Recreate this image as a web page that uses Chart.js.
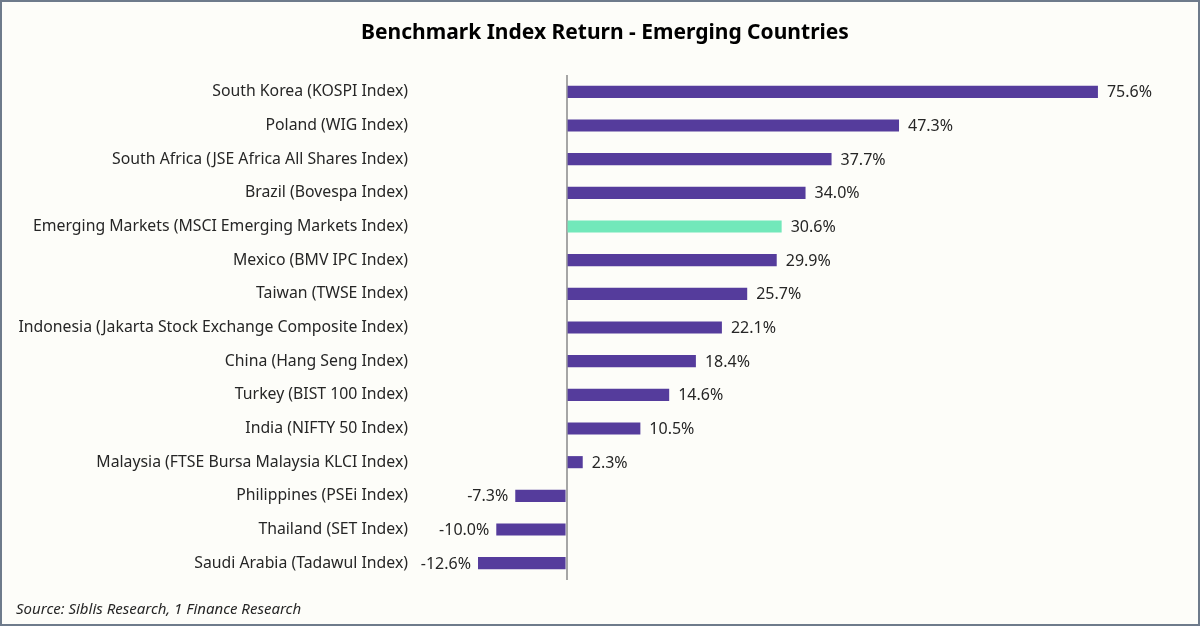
<!DOCTYPE html>
<html>
<head>
<meta charset="utf-8">
<script src="https://cdn.jsdelivr.net/npm/chart.js@4.4.1/dist/chart.umd.min.js"></script>
<style>
    html, body { margin: 0; padding: 0; background: #fdfdf9; }
    #wrap {
        width: 1200px; height: 626px; box-sizing: border-box;
        border: 2px solid #6e7b8b; background: #fdfdf9;
    }
    canvas { display: block; }
</style>
</head>
<body>
<div id="wrap"><canvas id="myChart" width="1196" height="622"></canvas></div>
<script>
// Chart data
const categories = [
    'South Korea (KOSPI Index)',
    'Poland (WIG Index)',
    'South Africa (JSE Africa All Shares Index)',
    'Brazil (Bovespa Index)',
    'Emerging Markets (MSCI Emerging Markets Index)',
    'Mexico (BMV IPC Index)',
    'Taiwan (TWSE Index)',
    'Indonesia (Jakarta Stock Exchange Composite Index)',
    'China (Hang Seng Index)',
    'Turkey (BIST 100 Index)',
    'India (NIFTY 50 Index)',
    'Malaysia (FTSE Bursa Malaysia KLCI Index)',
    'Philippines (PSEi Index)',
    'Thailand (SET Index)',
    'Saudi Arabia (Tadawul Index)'
];
const returns = [75.6, 47.3, 37.7, 34.0, 30.6, 29.9, 25.7, 22.1, 18.4, 14.6, 10.5, 2.3, -7.3, -10.0, -12.6];
const highlight = 'Emerging Markets (MSCI Emerging Markets Index)';

const titleText = 'Benchmark Index Return - Emerging Countries';
const sourceText = 'Source: Siblis Research, 1 Finance Research';

const barColor = '#553c9c';
const highlightColor = '#72e8ba';
const textColor = '#262626';
const fontFamily = '"Noto Sans"';

// Title, source note and value labels
const textPlugin = {
    id: 'textPlugin',
    afterDatasetsDraw(chart) {
        const ctx = chart.ctx;
        ctx.save();
        ctx.fillStyle = textColor;
        ctx.font = '16px ' + fontFamily;
        ctx.textBaseline = 'middle';
        const meta = chart.getDatasetMeta(0);
        meta.data.forEach((bar, i) => {
            const v = returns[i];
            const label = v.toFixed(1) + '%';
            if (v >= 0) {
                ctx.textAlign = 'left';
                ctx.fillText(label, bar.x + 9, bar.y + 1);
            } else {
                ctx.textAlign = 'right';
                ctx.fillText(label, bar.x - 7, bar.y + 1);
            }
        });

        ctx.fillStyle = '#000';
        ctx.font = 'bold 21px ' + fontFamily;
        ctx.textAlign = 'center';
        ctx.fillText(titleText, 603, 31);

        ctx.fillStyle = '#262626';
        ctx.font = 'italic 15px ' + fontFamily;
        ctx.textAlign = 'left';
        ctx.fillText(sourceText, 14, 608);
        ctx.restore();
    }
};

document.addEventListener('DOMContentLoaded', () => {
    const ctx = document.getElementById('myChart').getContext('2d');
    new Chart(ctx, {
        type: 'bar',
        data: {
            labels: categories,
            datasets: [{
                data: returns,
                backgroundColor: categories.map(c => c === highlight ? highlightColor : barColor),
                categoryPercentage: 1,
                barPercentage: 0.36
            }]
        },
        options: {
            indexAxis: 'y',
            responsive: false,
            animation: false,
            layout: { padding: { top: 73, bottom: 44, left: 0, right: 34 } },
            plugins: {
                legend: { display: false },
                tooltip: { enabled: false },
                title: { display: false }
            },
            scales: {
                x: {
                    min: -20,
                    max: 85,
                    ticks: { display: false, stepSize: 5 },
                    border: { display: false },
                    grid: {
                        drawTicks: false,
                        lineWidth: 2,
                        color: c => c.tick && c.tick.value === 0 ? '#a6a6a6' : 'transparent'
                    }
                },
                y: {
                    afterFit: axis => { axis.width = 424; },
                    border: { display: false },
                    grid: { display: false, drawTicks: false },
                    ticks: {
                        padding: 18,
                        color: textColor,
                        font: { family: fontFamily, size: 15.8 }
                    }
                }
            }
        },
        plugins: [textPlugin]
    });
});
</script>
</body>
</html>
